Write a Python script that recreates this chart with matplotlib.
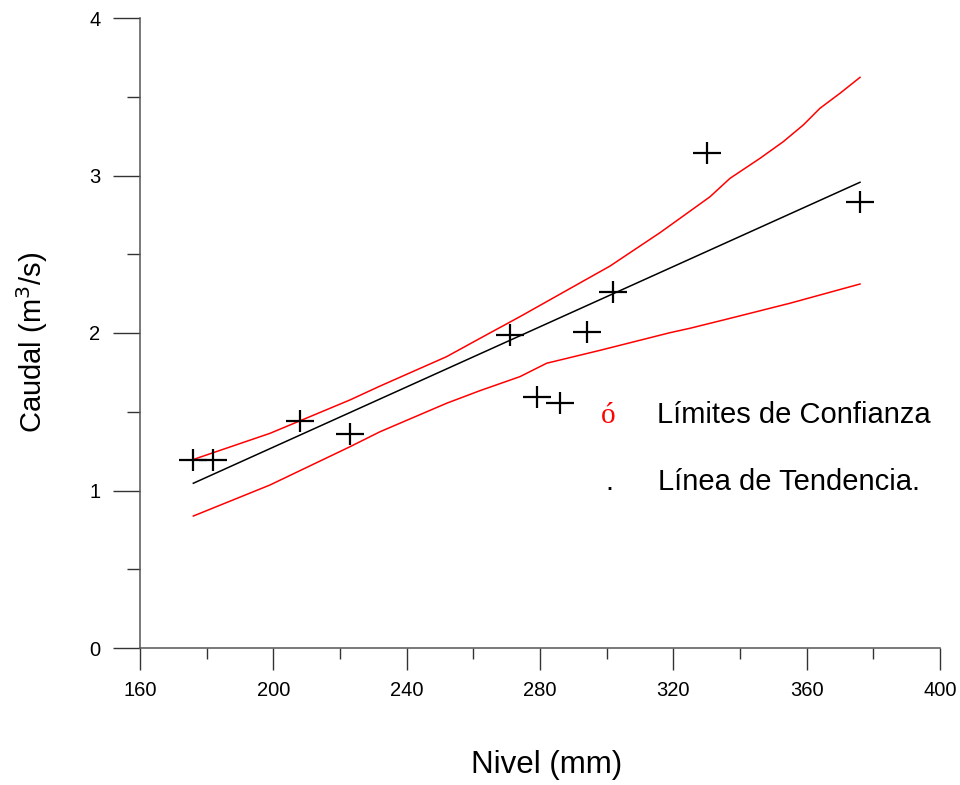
import matplotlib
matplotlib.use("Agg")
import matplotlib.pyplot as plt
from matplotlib.ticker import MultipleLocator

plt.rcParams['font.family'] = ['Liberation Sans', 'DejaVu Sans']

# Observed level / discharge pairs
nivel = [176, 182, 208, 223, 271, 279, 286, 294, 302, 330, 376]
caudal = [1.194, 1.194, 1.443, 1.357, 1.987, 1.592, 1.557, 2.008, 2.262, 3.145, 2.834]

# Trend line end points
trend_x = [176, 376]
trend_y = [1.046, 2.957]

# Upper confidence limit
upper_x = [176, 199, 223, 232, 252, 262, 274, 301, 316, 322, 331, 337, 346, 353, 359, 364, 370, 376]
upper_y = [1.197, 1.363, 1.575, 1.663, 1.850, 1.966, 2.104, 2.425, 2.637, 2.728, 2.865, 2.982,
           3.109, 3.215, 3.321, 3.427, 3.522, 3.623]

# Lower confidence limit
lower_x = [176, 199, 223, 232, 252, 262, 274, 282, 298, 319, 325, 337, 355, 376]
lower_y = [0.838, 1.035, 1.278, 1.373, 1.554, 1.634, 1.723, 1.808, 1.890, 2.002, 2.030,
           2.093, 2.189, 2.311]

fig = plt.figure(figsize=(9.6, 7.85), dpi=100)
ax = fig.add_axes([140 / 960, 1 - 648 / 785, 800 / 960, 630 / 785])

ax.plot(upper_x, upper_y, color='#ff0000', lw=1.1)
ax.plot(lower_x, lower_y, color='#ff0000', lw=1.1)
ax.plot(trend_x, trend_y, color='#000000', lw=1.1)
ax.plot(nivel, caudal, linestyle='none', marker='_', ms=19.5, mew=1.6, color='black')
ax.plot(nivel, caudal, linestyle='none', marker='|', ms=16, mew=1.6, color='black')

ax.set_xlim(160, 400)
ax.set_ylim(0, 4)
ax.xaxis.set_major_locator(MultipleLocator(40))
ax.xaxis.set_minor_locator(MultipleLocator(20))
ax.yaxis.set_major_locator(MultipleLocator(1))
ax.yaxis.set_minor_locator(MultipleLocator(0.5))

for side in ('top', 'right'):
    ax.spines[side].set_visible(False)
for side in ('left', 'bottom'):
    ax.spines[side].set_color('#555555')
    ax.spines[side].set_linewidth(1.1)

ax.tick_params(axis='x', which='major', direction='out', length=16, width=1.0,
               color='#333333', labelsize=14.5, pad=8)
ax.tick_params(axis='x', which='minor', direction='out', length=8, width=1.0, color='#333333')
ax.tick_params(axis='y', which='major', direction='out', length=19.5, width=1.0,
               color='#333333', labelsize=14.5, pad=9)
ax.tick_params(axis='y', which='minor', direction='out', length=9.5, width=1.0, color='#333333')

ax.set_xlabel('Nivel (mm)', fontsize=22.5, labelpad=36)
ax.xaxis.label.set_x(0.508)
ax.set_ylabel('Caudal (m$^3$/s)', fontsize=21, labelpad=28)
ax.yaxis.label.set_y(0.485)

# Legend entries drawn as text
ax.text(300.4, 1.429, 'ó', color='#ff0000', fontsize=21, family='Liberation Serif',
        va='baseline', ha='center')
ax.text(315.1, 1.429, 'Límites de Confianza', color='black', fontsize=21, va='baseline')
ax.text(300.8, 1.003, '.', color='black', fontsize=21, va='baseline', ha='center')
ax.text(315.4, 1.003, 'Línea de Tendencia.', color='black', fontsize=21, va='baseline')

fig.savefig('out.png', dpi=100)
